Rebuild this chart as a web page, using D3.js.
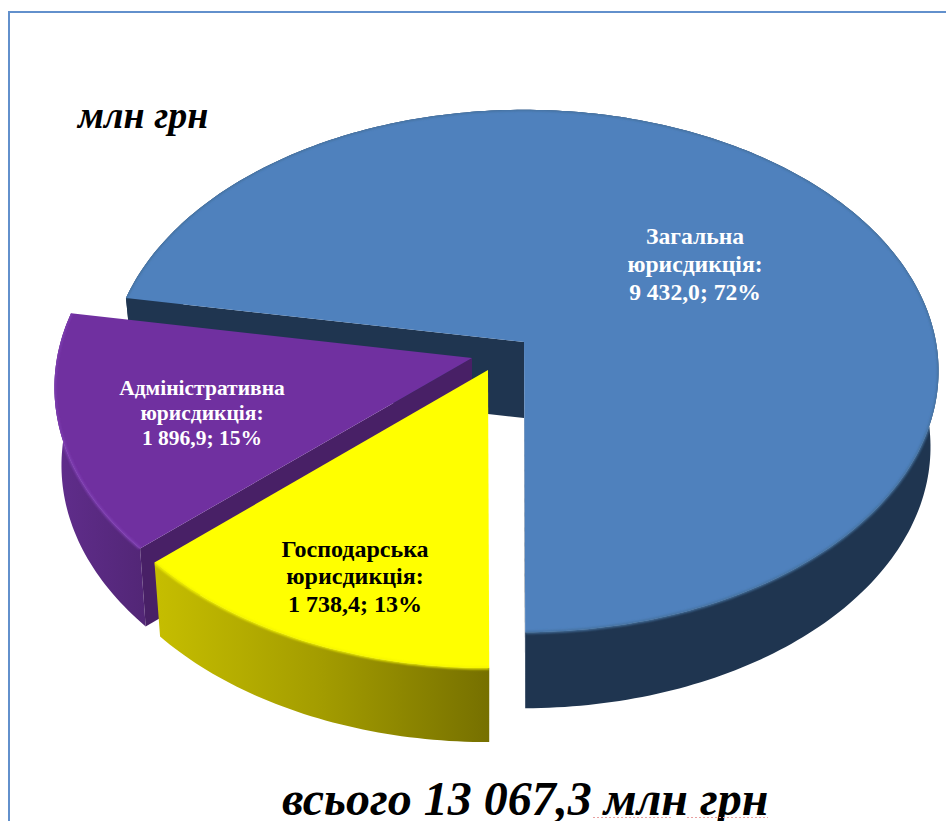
<!DOCTYPE html>
<html>
<head>
<meta charset="utf-8">
<script src="https://cdn.jsdelivr.net/npm/d3@7"></script>
<style>
html, body { margin: 0; padding: 0; background: #fff; overflow: hidden; }
svg { display: block; }
text { font-family: "Liberation Serif", serif; font-weight: bold; }
</style>
</head>
<body>
<div id="chart"></div>
<script>
// data
const categories = [["Загальна", "юрисдикція:"], ["Господарська", "юрисдикція:"], ["Адміністративна", "юрисдикція:"]];
const amounts = [9432.0, 1738.4, 1896.9];
const percents = [72, 13, 15];
const unitLabel = "млн грн";
const totalLabel = "всього 13 067,3 млн грн";

const width = 946, height = 821;
const deg = Math.PI / 180;
const persp = 0.111; // how much nearer things grow

// one layout per slice: apex on screen, radii of the top and bottom discs
const layouts = [
    { ax: 524, ay: 342, rx: 412, ry: 258, depth: 76, shrink: 404 / 412, top: "#4f81bd", rim: "#44719f", wall: "#1f3550", cut: "#1f3550", labelX: 695, labelY: [244, 272, 300], fontSize: 23.6, text: "#fff" },
    { ax: 488, ay: 370, rx: 417, ry: 265, depth: 74, shrink: 410 / 417, top: "#ffff00", rim: "#f4f400", wall: "url(#yellowWall)", cut: null, labelX: 355, labelY: [557, 584, 612], fontSize: 24, text: "#000" },
    { ax: 472, ay: 358, rx: 415, ry: 262, depth: 78, shrink: 408 / 415, top: "#7030a0", rim: "#8040b4", wall: "url(#purpleWall)", cut: "#482066", labelX: 202, labelY: [395, 420, 445], fontSize: 21.5, text: "#fff" }
];

const fmt = d3.formatLocale({ decimal: ",", thousands: " ", grouping: [3], currency: ["", ""] }).format(",.1f");

const svg = d3.select("#chart").append("svg")
    .attr("width", width)
    .attr("height", height);

const defs = svg.append("defs");

function addGradient(id, stops) {
    let g = defs.append("linearGradient").attr("id", id)
        .attr("x1", 0).attr("y1", 0).attr("x2", 1).attr("y2", 0);
    stops.forEach(function (s) {
        g.append("stop").attr("offset", s[0]).attr("stop-color", s[1]);
    });
}
addGradient("yellowWall", [[0, "#c6be00"], [0.5, "#a39c00"], [1, "#767000"]]);
addGradient("purpleWall", [[0, "#602d8c"], [1, "#522676"]]);

defs.append("filter").attr("id", "soft")
    .attr("x", "-5%").attr("y", "-5%").attr("width", "110%").attr("height", "110%")
    .append("feGaussianBlur").attr("stdDeviation", 0.8);

// frame
svg.append("rect")
    .attr("x", 9)
    .attr("y", 12)
    .attr("width", 950)
    .attr("height", 850)
    .style("fill", "#fff")
    .style("stroke", "#6290cc")
    .style("stroke-width", 2);

const pie = d3.pie()
    .sort(null)
    .startAngle(190 * deg)
    .endAngle(550 * deg);

const arcs = pie(amounts);

// disc position on screen for angle t; level 0 is the top face, 1 the bottom
function project(l, t, level) {
    let u = Math.cos(t), v = Math.sin(t);
    let w = 1 - persp * v;
    let s = level ? l.shrink : 1;
    let dy = level ? l.depth : 0;
    return [l.ax + l.rx * s * u / w, l.ay + dy + l.ry * v / w];
}

const line = d3.line();

function arcPoints(l, a0, a1, level) {
    let n = Math.ceil(Math.abs(a1 - a0) / deg);
    return d3.range(n + 1).map(function (i) {
        return project(l, a0 + (a1 - a0) * i / n, level);
    });
}

// draw order: the big slice, then purple, then yellow on top of it
const order = [0, 2, 1];

order.forEach(function (i) {
    let l = layouts[i], a = arcs[i];
    let g = svg.append("g");

    // outer wall
    let wallPts = arcPoints(l, a.startAngle, a.endAngle, 0)
        .concat(arcPoints(l, a.endAngle, a.startAngle, 1));
    let wallPath = line(wallPts) + "Z";
    g.append("path")
        .attr("d", wallPath)
        .style("fill", l.wall);

    // cut faces towards the viewer
    if (l.cut) {
        let faces = [a.startAngle, a.endAngle].map(function (t) {
            return [[l.ax, l.ay], project(l, t, 0), project(l, t, 1), [l.ax, l.ay + l.depth]];
        });
        let use = i === 0 ? faces : [faces[0]];
        use.forEach(function (f) {
            g.append("path")
                .attr("d", line(f) + "Z")
                .style("fill", l.cut);
        });
    }

    // top face
    let topPts = [[l.ax, l.ay]].concat(arcPoints(l, a.startAngle, a.endAngle, 0));
    let topPath = line(topPts) + "Z";
    g.append("path")
        .attr("d", topPath)
        .style("fill", l.top);

    // soft rim along the outer edge, kept inside the slice's outline
    defs.append("clipPath").attr("id", "slice" + i)
        .append("path").attr("d", topPath + wallPath);
    g.append("g")
        .attr("clip-path", "url(#slice" + i + ")")
        .append("path")
        .attr("d", line(arcPoints(l, a.startAngle, a.endAngle, 0)))
        .attr("filter", "url(#soft)")
        .style("fill", "none")
        .style("stroke", l.rim)
        .style("stroke-width", 2.5);
});

// slice labels
order.forEach(function (i) {
    let l = layouts[i];
    let rows = categories[i].concat([fmt(amounts[i]) + "; " + percents[i] + "%"]);
    svg.append("g").selectAll("text")
        .data(rows)
        .enter()
        .append("text")
        .attr("x", l.labelX)
        .attr("y", function (d, k) { return l.labelY[k]; })
        .attr("text-anchor", "middle")
        .style("font-size", l.fontSize + "px")
        .style("fill", l.text)
        .text(function (d) { return d; });
});

svg.append("text")
    .attr("x", 78)
    .attr("y", 128)
    .style("font-size", "38px")
    .style("font-style", "italic")
    .text(unitLabel);

svg.append("text")
    .attr("x", 282)
    .attr("y", 815)
    .style("font-size", "48px")
    .style("font-style", "italic")
    .text(totalLabel);

// spell-check underline below the last two words
[[593, 673], [687, 768]].forEach(function (s) {
    svg.append("path")
        .attr("d", line([[s[0], 817.5], [s[1], 817.5]]))
        .style("stroke", "#e8a0a0")
        .style("stroke-width", 1.2)
        .style("stroke-dasharray", "2 2");
});
</script>
</body>
</html>
